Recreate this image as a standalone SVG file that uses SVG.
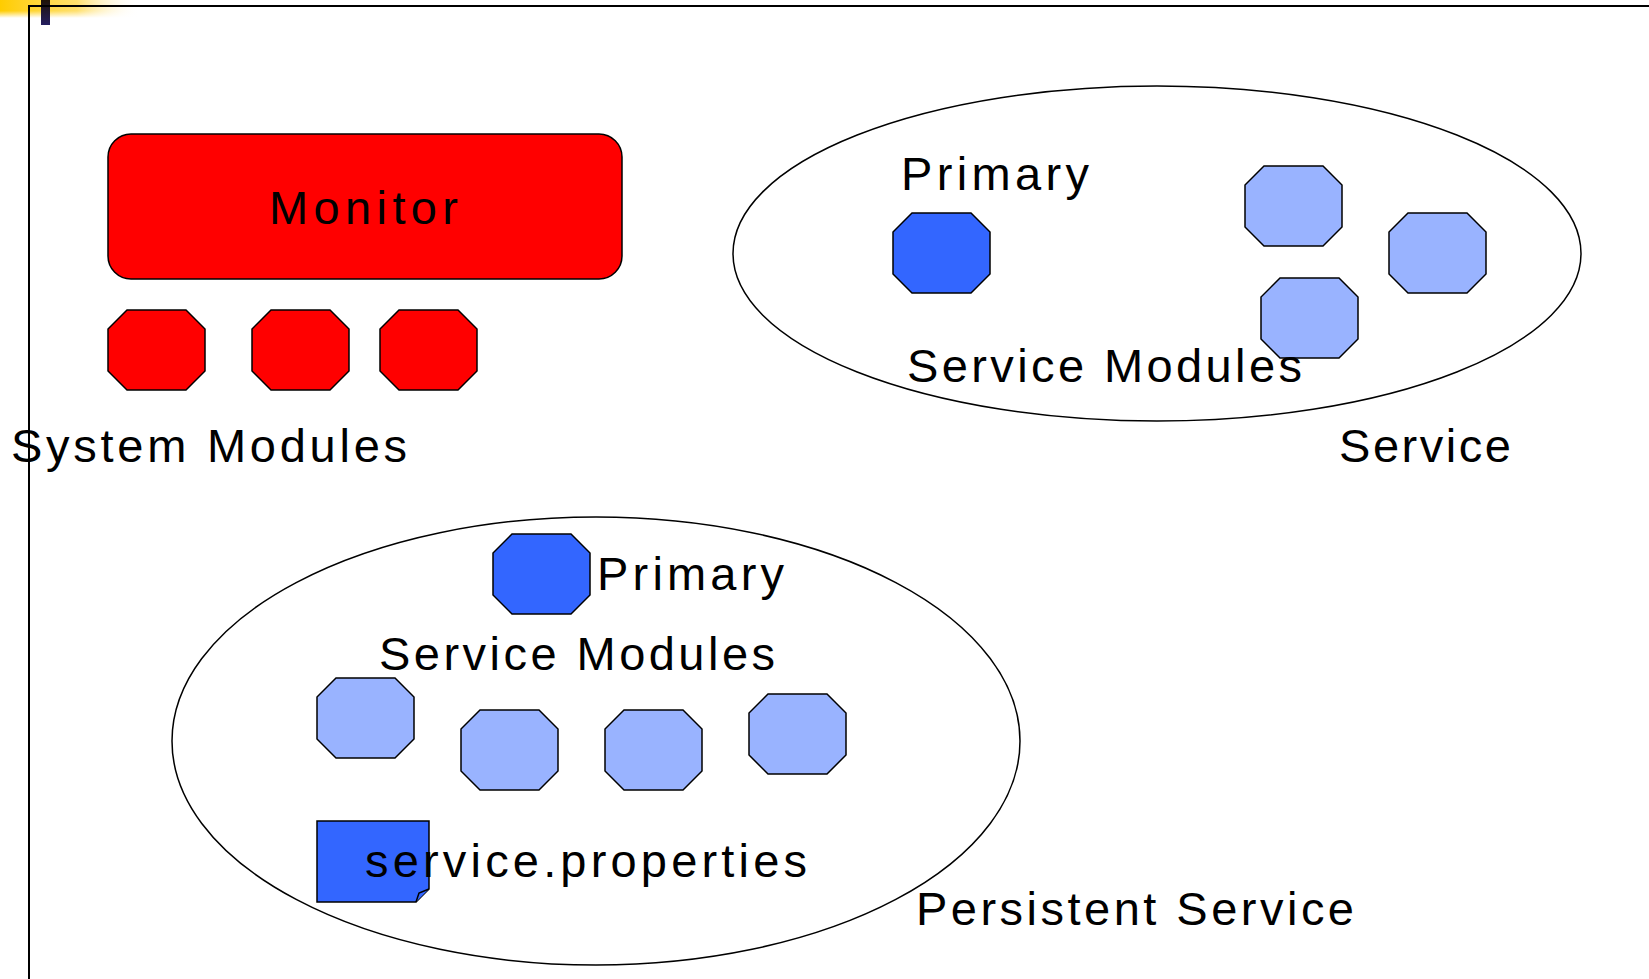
<svg xmlns="http://www.w3.org/2000/svg" width="1649" height="979" viewBox="0 0 1649 979">
  <style>
    .lbl { font-family: "Liberation Sans", Arial, sans-serif; font-size: 47px; fill: #000; }
    .ring { fill: none; stroke: #000; stroke-width: 1.5; }
    .frame { stroke: #000; stroke-width: 2; fill: none; }
    .red { fill: #ff0000; stroke: #000; stroke-width: 1.5; }
    .primary { fill: #3366ff; stroke: #000; stroke-width: 1.5; }
    .module { fill: #99b3ff; stroke: #000; stroke-width: 1.5; }
  </style>
  <defs>
    <!-- octagonal module shape, 97 x 80 -->
    <polygon id="oct" points="19,0 78,0 97,19 97,61 78,80 19,80 0,61 0,19"/>
    <linearGradient id="gold" x1="0" y1="0" x2="1" y2="0">
      <stop offset="0" stop-color="#ffcc00"/>
      <stop offset="0.55" stop-color="#ffd84a" stop-opacity="0.8"/>
      <stop offset="1" stop-color="#ffffff" stop-opacity="0"/>
    </linearGradient>
    <linearGradient id="goldFade" x1="0" y1="0" x2="0" y2="1">
      <stop offset="0" stop-color="#fff" stop-opacity="0"/>
      <stop offset="0.6" stop-color="#fff" stop-opacity="0"/>
      <stop offset="1" stop-color="#fff" stop-opacity="1"/>
    </linearGradient>
    <linearGradient id="bar" x1="0" y1="0" x2="0" y2="1">
      <stop offset="0" stop-color="#1e1206"/>
      <stop offset="1" stop-color="#241e60"/>
    </linearGradient>
  </defs>

  <rect width="1649" height="979" fill="#fff"/>

  <!-- page corner decoration and frame -->
  <g id="page-frame">
    <rect x="0" y="0" width="140" height="18" fill="url(#gold)"/>
    <rect x="0" y="0" width="140" height="18" fill="url(#goldFade)"/>
    <rect x="41" y="0" width="9" height="25" fill="url(#bar)"/>
    <path class="frame" d="M29,979 V6 H1649"/>
  </g>

  <!-- system part -->
  <g id="monitor">
    <rect x="108" y="134" width="514" height="145" rx="23" ry="23" class="red"/>
    <text class="lbl" x="269" y="224" textLength="189" lengthAdjust="spacing">Monitor</text>
  </g>
  <g id="system-module-1"><use href="#oct" class="red" x="108" y="310"/></g>
  <g id="system-module-2"><use href="#oct" class="red" x="252" y="310"/></g>
  <g id="system-module-3"><use href="#oct" class="red" x="380" y="310"/></g>
  <g id="system-modules-label">
    <text class="lbl" x="11" y="462" textLength="396" lengthAdjust="spacing">System Modules</text>
  </g>

  <!-- service -->
  <g id="service">
    <ellipse class="ring" cx="1157" cy="253.5" rx="424" ry="167.5"/>
    <text class="lbl" x="1339" y="462" textLength="172" lengthAdjust="spacing">Service</text>
  </g>
  <g id="service-primary">
    <use href="#oct" class="primary" x="893" y="213"/>
    <text class="lbl" x="901" y="190" textLength="188" lengthAdjust="spacing">Primary</text>
  </g>
  <g id="service-module-1"><use href="#oct" class="module" x="1245" y="166"/></g>
  <g id="service-module-2"><use href="#oct" class="module" x="1389" y="213"/></g>
  <g id="service-module-3"><use href="#oct" class="module" x="1261" y="278"/></g>
  <g id="service-modules-label">
    <text class="lbl" x="907" y="382" textLength="395" lengthAdjust="spacing">Service Modules</text>
  </g>

  <!-- persistent service -->
  <g id="persistent-service">
    <ellipse class="ring" cx="596" cy="741" rx="424" ry="224"/>
    <text class="lbl" x="916" y="925" textLength="438" lengthAdjust="spacing">Persistent Service</text>
  </g>
  <g id="persistent-primary">
    <use href="#oct" class="primary" x="493" y="534"/>
    <text class="lbl" x="597" y="590" textLength="187" lengthAdjust="spacing">Primary</text>
  </g>
  <g id="persistent-modules-label">
    <text class="lbl" x="379" y="670" textLength="396" lengthAdjust="spacing">Service Modules</text>
  </g>
  <g id="persistent-module-1"><use href="#oct" class="module" x="317" y="678"/></g>
  <g id="persistent-module-2"><use href="#oct" class="module" x="461" y="710"/></g>
  <g id="persistent-module-3"><use href="#oct" class="module" x="605" y="710"/></g>
  <g id="persistent-module-4"><use href="#oct" class="module" x="749" y="694"/></g>
  <g id="service-properties">
    <path class="primary" d="M317,821 H429 V889 L416,902 H317 Z"/>
    <path class="primary" d="M416,902 L419,893 L429,889"/>
    <text class="lbl" x="365" y="877" textLength="442" lengthAdjust="spacing">service.properties</text>
  </g>

  <!-- connectors: none in this drawing -->
  <g id="connectors"/>
</svg>
